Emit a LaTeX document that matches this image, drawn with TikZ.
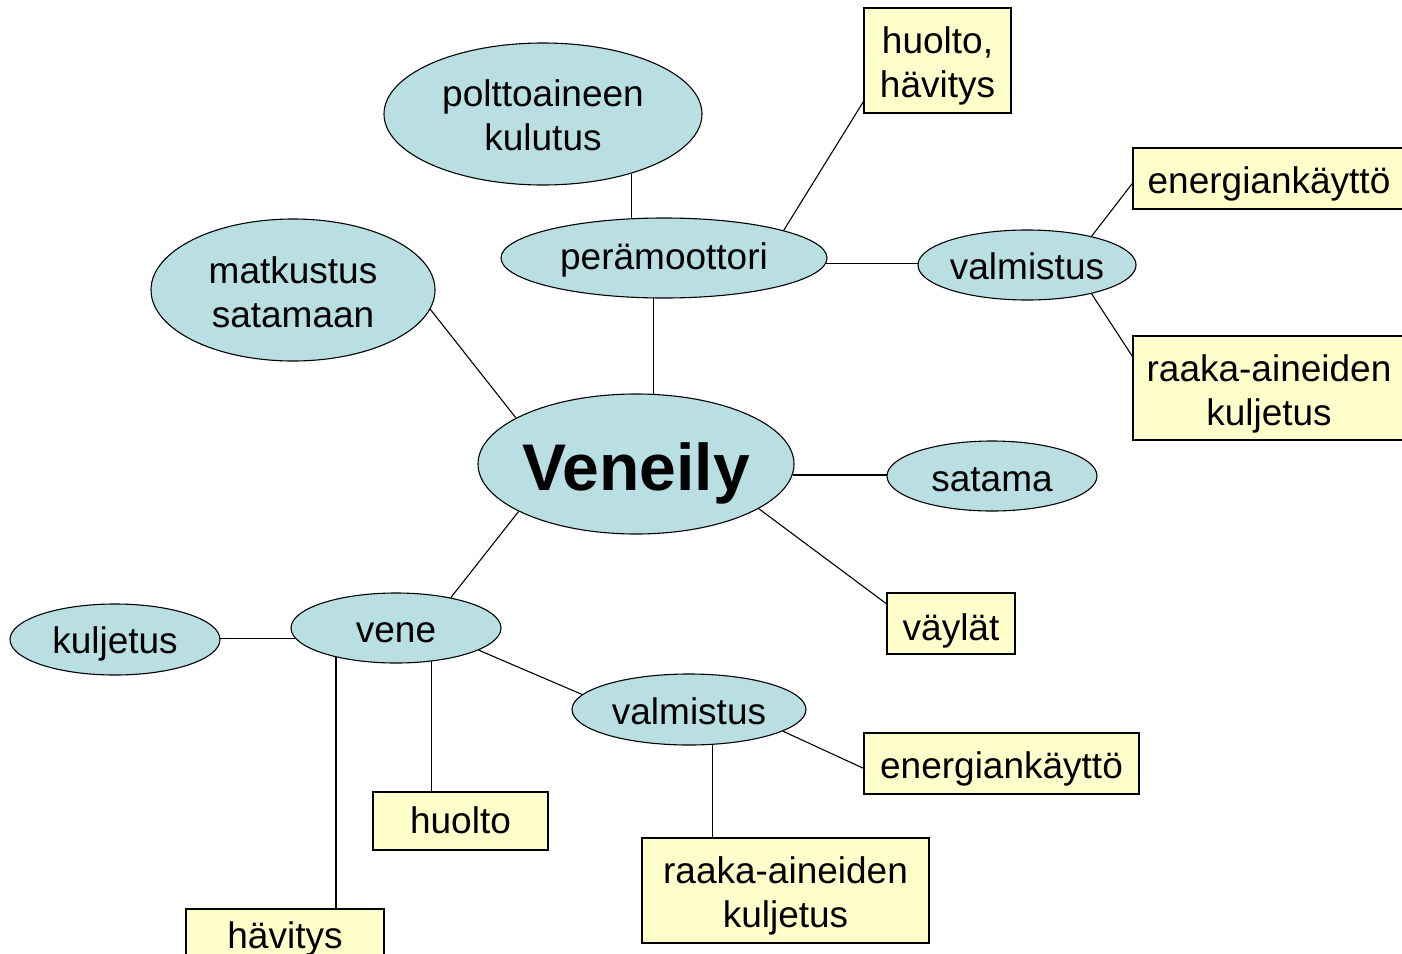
\documentclass[tikz,border=0pt]{standalone}
\usepackage{fontspec}
\setmainfont{Liberation Sans}
\usetikzlibrary{shapes.geometric,backgrounds}
\definecolor{ellfill}{RGB}{185,223,227}
\definecolor{boxfill}{RGB}{255,255,204}
\newcommand\topstrut[1]{\rule{0pt}{#1pt}}
\newcommand\botstrut{\rule[-8pt]{0pt}{8pt}}
\begin{document}
\begin{tikzpicture}[x=1pt,y=-1pt,
  ell/.style={ellipse,draw=black,line width=1.1pt,fill=ellfill,inner sep=0pt,
    font=\fontsize{37}{44}\selectfont,align=center},
  bx/.style={rectangle,draw=black,line width=1.1pt,fill=boxfill,inner sep=0pt,
    font=\fontsize{37}{44}\selectfont,align=center},
  conn/.style={line width=1.1pt,draw=black}]
\useasboundingbox (0,0) rectangle (1402,953);

\node[ell,minimum width=318pt,minimum height=142pt] (polt) at (543,114) {\topstrut{36.6}polttoaineen\\kulutus\botstrut};
\node[ell,minimum width=326pt,minimum height=80pt] (per) at (664,258) {\topstrut{31}perämoottori\botstrut};
\node[bx,minimum width=147pt,minimum height=105pt] (hh) at (937.5,60.5) {\topstrut{37}huolto,\\hävitys\botstrut};
\node[ell,minimum width=210pt,minimum height=70pt] (valm1) at (1027,265) {\topstrut{36}valmistus\botstrut};
\node[bx,minimum width=272pt,minimum height=61pt] (en1) at (1269,178.5) {\topstrut{37}energiankäyttö\botstrut};
\node[bx,minimum width=272pt,minimum height=104pt] (raa1) at (1269,388) {\topstrut{38}raaka-aineiden\\kuljetus\botstrut};
\node[ell,minimum width=284pt,minimum height=142pt] (matk) at (293,290) {\topstrut{38}matkustus\\satamaan\botstrut};
\node[ell,minimum width=316pt,minimum height=140pt,font=\fontsize{66}{72}\selectfont\bfseries] (ven) at (636,464) {\makebox[0pt]{\rule[-14pt]{0pt}{14pt}\rule{0pt}{66pt}Veneily}};
\node[ell,minimum width=210pt,minimum height=70pt] (sat) at (992,476) {\topstrut{38}satama\botstrut};
\node[bx,minimum width=128pt,minimum height=61pt] (vay) at (951,623.5) {\topstrut{41}väylät\botstrut};
\node[ell,minimum width=210pt,minimum height=71pt] (kulj) at (115,639.5) {\topstrut{36}kuljetus\botstrut};
\node[ell,minimum width=210pt,minimum height=70pt] (vene) at (396,628) {\topstrut{37}vene\botstrut};
\node[ell,minimum width=234pt,minimum height=71pt] (valm2) at (689,709.5) {\topstrut{38}valmistus\botstrut};
\node[bx,minimum width=275pt,minimum height=61pt] (en2) at (1001.5,763.5) {\topstrut{37}energiankäyttö\botstrut};
\node[bx,minimum width=175pt,minimum height=58pt] (huo) at (460.5,821) {\topstrut{33}huolto\botstrut};
\node[bx,minimum width=287pt,minimum height=105pt] (raa2) at (785.5,890.5) {\topstrut{38}raaka-aineiden\\kuljetus\botstrut};
\node[bx,minimum width=198pt,minimum height=58pt] (hav) at (285,938) {\topstrut{28}hävitys\botstrut};

\begin{scope}[on background layer]
\fill[white] (0,0) rectangle (1402,953);
\draw[conn] (polt.-34.3) -- (polt.-34.3 |- per.center);
\draw[conn] (per.255.9) -- (per.255.9 |- ven.center);
\draw[conn] (per.13.3) -- (hh.209.4);
\draw[conn] (per.-2.5) -- (per.-2.5 -| valm1.center);
\draw[conn] (valm1.24) -- (en1.182.3);
\draw[conn] (valm1.-24.7) -- (raa1.167.2);
\draw[conn] (matk.-8.2) -- (ven.159.5);
\draw[conn] (ven.-4.4) -- (ven.-4.4 -| sat.center);
\draw[conn] (ven.-20.8) -- (vay.163.1);
\draw[conn] (ven.202.9) -- (vene.29.5);
\draw[conn] (vene.186.3) -- (vene.186.3 -| kulj.center);
\draw[conn] (vene.206.7) -- (vene.206.7 |- hav.center);
\draw[conn] (vene.-43.3) -- (vene.-43.3 |- huo.center);
\draw[conn] (vene.-15.7) -- (valm2.172.7);
\draw[conn] (valm2.-13.9) -- (en2.182.3);
\draw[conn] (valm2.-56.2) -- (valm2.-56.2 |- raa2.center);
\end{scope}
\end{tikzpicture}
\end{document}
